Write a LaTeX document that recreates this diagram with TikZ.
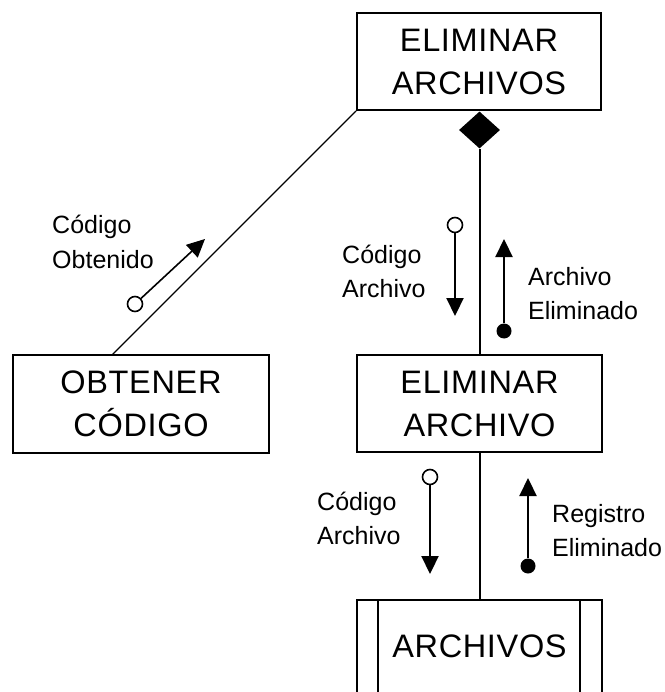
\documentclass[tikz,border=0pt]{standalone}
\usepackage{fontspec}
\setmainfont{Liberation Sans}
\newfontfamily\boxfamily[LetterSpace=2]{Liberation Sans}
\usetikzlibrary{arrows.meta,shapes.geometric,calc}
\newcommand{\twoline}[2]{\vtop{\hbox{#1}\hbox{#2}}}
\begin{document}
\begin{tikzpicture}[x=1pt,y=-1pt,
  procbox/.style={draw,line width=2pt,inner sep=0pt,align=center,font=\boxfamily\fontsize{32.5}{43}\selectfont},
  lbl/.style={anchor=base west,inner sep=0pt,font=\fontsize{25}{34}\selectfont},
  flow/.style={line width=2.2pt,-{Triangle[length=18pt,width=17pt]}},
  opendot/.style={circle,draw,line width=1.6pt,fill=white,minimum size=15pt,inner sep=0pt},
  fulldot/.style={circle,fill=black,minimum size=15pt,inner sep=0pt},
  link/.style={line width=2pt}]
\useasboundingbox (0,0) rectangle (664,692);
% boxes
\node[procbox,minimum width=244pt,minimum height=97pt] (top) at (479,61.5) {ELIMINAR\\ARCHIVOS};
\node[diamond,fill=black,minimum width=41pt,minimum height=37pt,inner sep=0pt] (dia) at (479.5,130) {};
\node[procbox,minimum width=256pt,minimum height=98pt] (obt) at (141,404) {OBTENER\\CÓDIGO};
\node[procbox,minimum width=245pt,minimum height=97pt] (ea) at (479.5,403.5) {ELIMINAR\\ARCHIVO};
\node[procbox,anchor=north,minimum width=245pt,minimum height=130pt,text height=23.5pt,text depth=39.5pt] (arch) at (479.5,599) {ARCHIVOS};
\draw[line width=2pt] ($(arch.north west)+(22,0)$) -- ($(arch.south west)+(22,0)$);
\draw[line width=2pt] ($(arch.north east)+(-23,0)$) -- ($(arch.south east)+(-23,0)$);
% connectors
\draw[link] (dia.south) -- (ea.north);
\draw[link] (ea.south) -- (arch.north);
\coordinate (obtc) at (112,355);
\draw[line width=1.4pt] (top.south west) -- (obtc);
% data flows
\node[opendot] (o1) at (135,304) {};
\coordinate (t1) at (205,239);
\draw[flow,line width=1.6pt] (o1) -- (t1);
\node[opendot] (o2) at (455,225) {};
\coordinate (t2) at (455,316);
\draw[flow] (o2) -- (t2);
\node[fulldot] (d3) at (504,331) {};
\coordinate (t3) at (504,239);
\draw[flow] (d3) -- (t3);
\node[opendot] (o4) at (430,477) {};
\coordinate (t4) at (430,574);
\draw[flow] (o4) -- (t4);
\node[fulldot] (d5) at (528,566) {};
\coordinate (t5) at (528,478);
\draw[flow] (d5) -- (t5);
% labels
\node[lbl] (l1) at (52,234) {\twoline{Código}{Obtenido}};
\node[lbl] (l2) at (342,263) {\twoline{Código}{Archivo}};
\node[lbl] (l3) at (528,285) {\twoline{Archivo}{Eliminado}};
\node[lbl] (l4) at (317,510) {\twoline{Código}{Archivo}};
\node[lbl] (l5) at (552,522) {\twoline{Registro}{Eliminado}};
\end{tikzpicture}
\end{document}
